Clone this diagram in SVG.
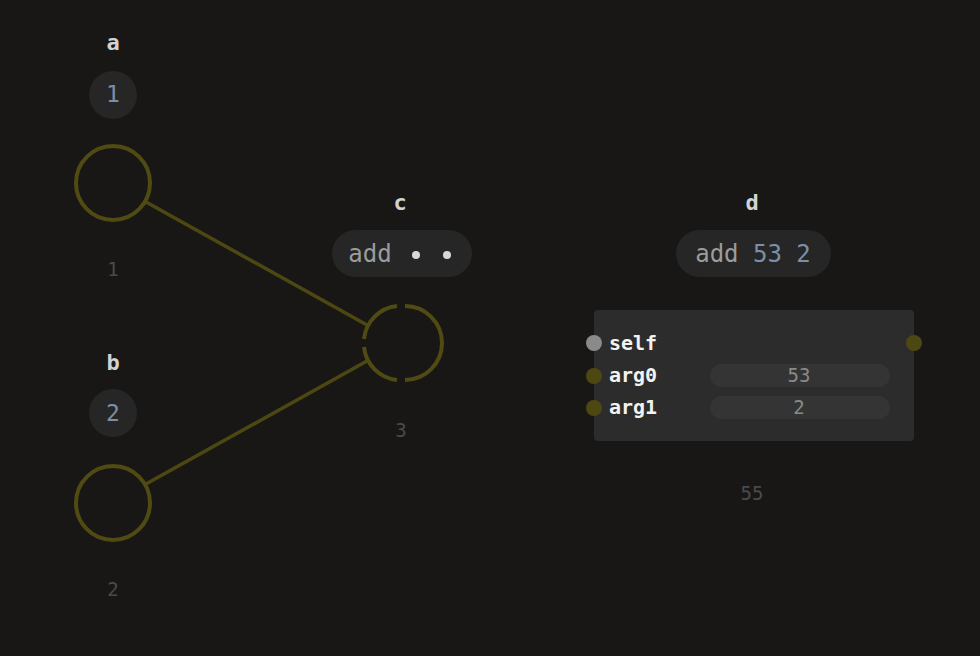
<svg xmlns="http://www.w3.org/2000/svg" width="980" height="656" viewBox="0 0 980 656">
<style>
text{font-family:"DejaVu Sans Mono","Liberation Mono",monospace;text-anchor:middle}
.lbl{font-size:22px;font-weight:bold;fill:#d2d2d2}
.val{font-size:23px;fill:#7b8fa8}
.out{font-size:19px;fill:#4a4a4a}
.bub{fill:#262626}
.ring{fill:none;stroke:#504b12;stroke-width:4}
.edge{stroke:#4d4812;stroke-width:3.5;fill:none}
.op{font-size:24px;fill:#9c9c9c}
.port{font-size:20px;font-weight:bold;fill:#f2f2f2;text-anchor:start}
.fld{fill:#343434}
.fv{font-size:19px;fill:#8a8a8a}
</style>
<rect width="980" height="656" fill="#181716"/>
<g id="connectors">
<line class="edge" x1="146" y1="202" x2="367" y2="325"/>
<line class="edge" x1="146" y1="484" x2="367" y2="361"/>
</g>
<g id="a">
<text class="lbl" x="113" y="50">a</text>
<circle class="bub" cx="113" cy="95" r="24"/>
<text class="val" x="113" y="102">1</text>
<circle class="ring" cx="113" cy="183" r="37"/>
<text class="out" x="113" y="276">1</text>
</g>
<g id="b">
<text class="lbl" x="113" y="370">b</text>
<circle class="bub" cx="113" cy="413" r="24"/>
<text class="val" x="113" y="421">2</text>
<circle class="ring" cx="113" cy="503" r="37"/>
<text class="out" x="113" y="596">2</text>
</g>
<g id="c">
<text class="lbl" x="400" y="210">c</text>
<rect class="bub" x="332" y="230" width="140" height="47" rx="23.5"/>
<text class="op" x="370" y="262">add</text>
<circle cx="416" cy="255" r="4" fill="#d8d8d8"/>
<circle cx="447" cy="255" r="4" fill="#d8d8d8"/>
<path class="ring" d="M405 306 A37 37 0 0 1 405 380 M397 380 A37 37 0 0 1 364 347 M364 339 A37 37 0 0 1 397 306"/>
<text class="out" x="401" y="437">3</text>
</g>
<g id="d">
<text class="lbl" x="752" y="210">d</text>
<rect class="bub" x="676" y="230" width="155" height="47" rx="23.5"/>
<text class="op" x="753" y="262"><tspan fill="#9c9c9c">add</tspan> <tspan fill="#7b8fa8">53 2</tspan></text>
<rect x="594" y="310" width="320" height="131" rx="4" fill="#2c2c2c"/>
<circle cx="594" cy="343" r="8" fill="#8a8a8a"/>
<circle cx="594" cy="376" r="8" fill="#4d4812"/>
<circle cx="594" cy="408" r="8" fill="#4d4812"/>
<circle cx="914" cy="343" r="8" fill="#4d4812"/>
<text class="port" x="609" y="350">self</text>
<text class="port" x="609" y="382">arg0</text>
<text class="port" x="609" y="414">arg1</text>
<rect class="fld" x="710" y="364" width="180" height="23" rx="11.5"/>
<text class="fv" x="799" y="382">53</text>
<rect class="fld" x="710" y="396" width="180" height="23" rx="11.5"/>
<text class="fv" x="799" y="414">2</text>
<text class="out" x="752" y="500">55</text>
</g>
</svg>
